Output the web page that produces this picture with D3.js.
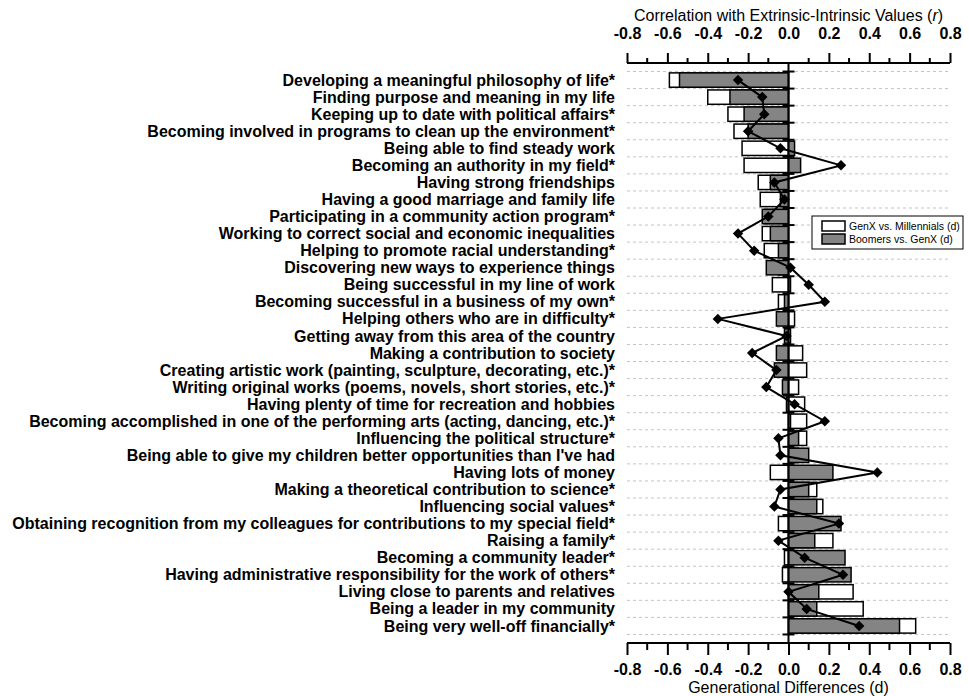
<!DOCTYPE html>
<html>
<head>
<meta charset="utf-8">
<script src="https://cdn.jsdelivr.net/npm/d3@7"></script>
<style>
  body { margin: 0; background: #fff; }
  svg { font-family: "Liberation Sans", Arial, sans-serif; }
</style>
</head>
<body>
<div id="chart"></div>
<script>
var categories = [
  "Developing a meaningful philosophy of life*",
  "Finding purpose and meaning in my life",
  "Keeping up to date with political affairs*",
  "Becoming involved in programs to clean up the environment*",
  "Being able to find steady work",
  "Becoming an authority in my field*",
  "Having strong friendships",
  "Having a good marriage and family life",
  "Participating in a community action program*",
  "Working to correct social and economic inequalities",
  "Helping to promote racial understanding*",
  "Discovering new ways to experience things",
  "Being successful in my line of work",
  "Becoming successful in a business of my own*",
  "Helping others who are in difficulty*",
  "Getting away from this area of the country",
  "Making a contribution to society",
  "Creating artistic work (painting, sculpture, decorating, etc.)*",
  "Writing original works (poems, novels, short stories, etc.)*",
  "Having plenty of time for recreation and hobbies",
  "Becoming accomplished in one of the performing arts (acting, dancing, etc.)*",
  "Influencing the political structure*",
  "Being able to give my children better opportunities than I've had",
  "Having lots of money",
  "Making a theoretical contribution to science*",
  "Influencing social values*",
  "Obtaining recognition from my colleagues for contributions to my special field*",
  "Raising a family*",
  "Becoming a community leader*",
  "Having administrative responsibility for the work of others*",
  "Living close to parents and relatives",
  "Being a leader in my community",
  "Being very well-off financially*"
];

// GenX vs. Millennials (d)
var genxMill = [-0.59, -0.40, -0.30, -0.27, -0.23, -0.22, -0.15, -0.14, -0.12, -0.13, -0.12,
  -0.05, -0.08, -0.05, 0.03, 0.01, 0.07, 0.09, 0.05, 0.08, 0.09, 0.09, 0.05, -0.09,
  0.14, 0.17, -0.05, 0.22, -0.02, -0.03, 0.32, 0.37, 0.63];

// Boomers vs. GenX (d)
var boomGenx = [-0.54, -0.29, -0.22, -0.20, 0.03, 0.06, -0.09, -0.04, -0.13, -0.09, -0.05,
  -0.11, 0.01, -0.02, -0.06, -0.02, -0.06, -0.07, -0.03, -0.01, 0.01, 0.05, 0.10, 0.22,
  0.10, 0.14, 0.26, 0.13, 0.28, 0.31, 0.15, 0.14, 0.55];

// Correlation with Extrinsic-Intrinsic Values (r)
var corr = [-0.25, -0.13, -0.12, -0.20, -0.04, 0.26, -0.07, -0.02, -0.10, -0.25, -0.17,
  0.01, 0.10, 0.18, -0.35, -0.01, -0.18, -0.06, -0.11, 0.03, 0.18, -0.05, -0.04, 0.44,
  -0.04, -0.07, 0.25, -0.05, 0.08, 0.27, 0.00, 0.09, 0.35];

var ticks = [-0.8, -0.6, -0.4, -0.2, 0.0, 0.2, 0.4, 0.6, 0.8];
var minorTicks = [-0.7, -0.5, -0.3, -0.1, 0.1, 0.3, 0.5, 0.7];

var width = 969, height = 696;
var plotTop = 63, plotBottom = 643;

var svg = d3.select("#chart").append("svg")
    .attr("width", width)
    .attr("height", height);

var x = d3.scaleLinear().domain([-0.8, 0.8]).range([627, 950]);
var y = d3.scaleBand().domain(categories).range([plotTop, plotBottom])
    .paddingInner(0).paddingOuter(0.5);

var step = y.step();
var barH = step * 0.84;

// dashed grid lines at row boundaries
var bounds = d3.range(categories.length + 1).map(function(i) { return y(categories[0]) + i * step; });
svg.append("g").selectAll("line")
    .data(bounds)
    .enter().append("line")
    .attr("x1", x(-0.8)).attr("x2", x(0.8))
    .attr("y1", function(d) { return d; })
    .attr("y2", function(d) { return d; })
    .attr("stroke", "#c4c4c4")
    .attr("stroke-width", 1)
    .attr("stroke-dasharray", "3,3");

function barX(v) { return Math.min(x(0), x(v)); }
function barW(v) { return Math.abs(x(v) - x(0)); }

// white bars (GenX vs Millennials) drawn first
svg.append("g").selectAll("rect")
    .data(genxMill)
    .enter().append("rect")
    .attr("x", function(d) { return barX(d); })
    .attr("y", function(d, i) { return y(categories[i]) + (step - barH) / 2; })
    .attr("width", function(d) { return barW(d); })
    .attr("height", barH)
    .attr("fill", "#fff")
    .attr("stroke", "#000")
    .attr("stroke-width", 1.5);

// grey bars on top
svg.append("g").selectAll("rect")
    .data(boomGenx)
    .enter().append("rect")
    .attr("x", function(d) { return barX(d); })
    .attr("y", function(d, i) { return y(categories[i]) + (step - barH) / 2; })
    .attr("width", function(d) { return barW(d); })
    .attr("height", barH)
    .attr("fill", "#848484")
    .attr("stroke", "#000")
    .attr("stroke-width", 1.5);

// zero line with row ticks
svg.append("line")
    .attr("x1", x(0)).attr("x2", x(0))
    .attr("y1", plotTop).attr("y2", plotBottom)
    .attr("stroke", "#000").attr("stroke-width", 2);
svg.append("g").selectAll("line")
    .data(bounds)
    .enter().append("line")
    .attr("x1", x(0) - 6).attr("x2", x(0) + 6)
    .attr("y1", function(d) { return d; })
    .attr("y2", function(d) { return d; })
    .attr("stroke", "#000").attr("stroke-width", 2);

// correlation line + diamonds
var line = d3.line()
    .x(function(d) { return x(d); })
    .y(function(d, i) { return y(categories[i]) + step / 2; });
svg.append("path")
    .datum(corr)
    .attr("d", line)
    .attr("fill", "none")
    .attr("stroke", "#000")
    .attr("stroke-width", 2);
svg.append("g").selectAll("path")
    .data(corr)
    .enter().append("path")
    .attr("d", d3.symbol().type(d3.symbolSquare).size(55))
    .attr("transform", function(d, i) {
        return "translate(" + x(d) + "," + (y(categories[i]) + step / 2) + ") rotate(45)"; })
    .attr("fill", "#000");

// category labels
svg.append("g").selectAll("text")
    .data(categories)
    .enter().append("text")
    .attr("x", 615)
    .attr("y", function(d) { return y(d) + step / 2; })
    .attr("dy", ".35em")
    .attr("text-anchor", "end")
    .attr("font-weight", "bold")
    .attr("font-size", "16px")
    .text(function(d) { return d; });

var fmt = function(d) { return d3.format(".1f")(d).replace("\u2212", "-"); };

// top axis
var topAxis = d3.axisTop(x).tickValues(ticks).tickSize(10).tickPadding(14).tickFormat(fmt);
var gTop = svg.append("g").attr("transform", "translate(0," + plotTop + ")").call(topAxis);
gTop.selectAll(".tick").filter(function(d) { return d === 0; }).select("line").remove();
gTop.append("g").selectAll("line")
    .data(minorTicks)
    .enter().append("line")
    .attr("x1", function(d) { return x(d); }).attr("x2", function(d) { return x(d); })
    .attr("y1", 0).attr("y2", -5)
    .attr("stroke", "#000").attr("stroke-width", 2);

// bottom axis
var botAxis = d3.axisBottom(x).tickValues(ticks).tickSize(12).tickPadding(9).tickFormat(fmt);
var gBot = svg.append("g").attr("transform", "translate(0," + plotBottom + ")").call(botAxis);
gBot.append("g").selectAll("line")
    .data(minorTicks)
    .enter().append("line")
    .attr("x1", function(d) { return x(d); }).attr("x2", function(d) { return x(d); })
    .attr("y1", 0).attr("y2", 7)
    .attr("stroke", "#000").attr("stroke-width", 2);

[gTop, gBot].forEach(function(g) {
    g.select(".domain").attr("stroke-width", 2).attr("d", "M" + x(-0.8) + ",0H" + x(0.8));
    g.selectAll(".tick line").attr("stroke-width", 2);
    g.selectAll(".tick text")
        .attr("font-family", "Liberation Sans, Arial, sans-serif")
        .attr("font-size", "16px")
        .attr("font-weight", "bold")
        .attr("fill", "#000");
});

// axis titles
var topTitle = svg.append("text")
    .attr("x", x(0)).attr("y", 21)
    .attr("text-anchor", "middle")
    .attr("font-size", "16px");
topTitle.append("tspan").text("Correlation with Extrinsic-Intrinsic Values (");
topTitle.append("tspan").attr("font-style", "italic").text("r");
topTitle.append("tspan").text(")");

svg.append("text")
    .attr("x", x(0)).attr("y", 693)
    .attr("text-anchor", "middle")
    .attr("font-size", "16px")
    .text("Generational Differences (d)");

// legend
var legendItems = [
    { name: "GenX vs. Millennials (d)", fill: "#fff" },
    { name: "Boomers vs. GenX (d)", fill: "#848484" }
];
var legend = svg.append("g").attr("transform", "translate(812,216)");
legend.append("rect")
    .attr("width", 151).attr("height", 33)
    .attr("fill", "#fff").attr("stroke", "#000").attr("stroke-width", 1);
var li = legend.selectAll("g.item")
    .data(legendItems)
    .enter().append("g")
    .attr("class", "item")
    .attr("transform", function(d, i) { return "translate(10," + (5 + i * 13) + ")"; });
li.append("rect")
    .attr("width", 23).attr("height", 10)
    .attr("fill", function(d) { return d.fill; })
    .attr("stroke", "#000").attr("stroke-width", 1.5);
li.append("text")
    .attr("x", 27).attr("y", 5).attr("dy", ".35em")
    .attr("font-size", "10.5px")
    .text(function(d) { return d.name; });
</script>
</body>
</html>
